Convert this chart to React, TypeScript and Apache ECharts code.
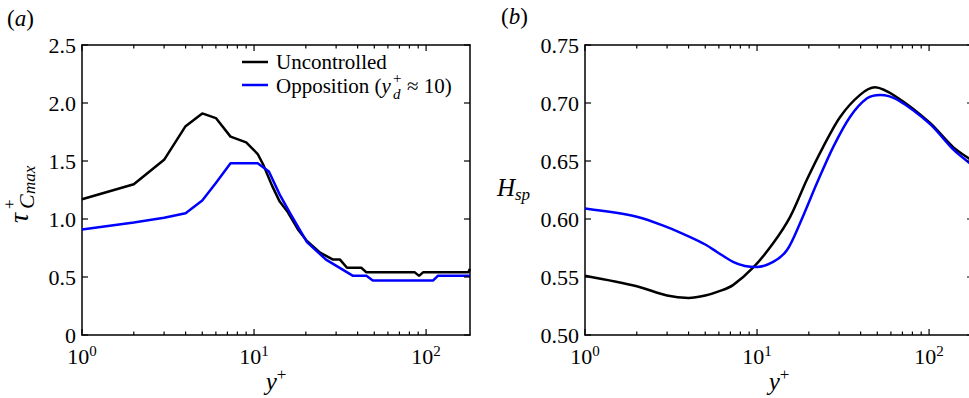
import React, { useEffect, useRef } from 'react';
import * as echarts from 'echarts';

// ---------- data: panel (a) ----------
const xA_unc = [1, 2, 3, 4, 5, 6, 7.3, 9, 10.5, 11.3, 12.7, 14.1, 15.7, 18, 20.3, 24.2, 28.8, 31.6, 34.7, 42, 45, 86, 91, 96, 176, 180];
const yA_unc = [1.17, 1.30, 1.51, 1.80, 1.91, 1.87, 1.71, 1.66, 1.56, 1.47, 1.29, 1.15, 1.06, 0.91, 0.81, 0.71, 0.65, 0.65, 0.58, 0.58, 0.54, 0.54, 0.51, 0.54, 0.54, 0.57];
const xA_opp = [1, 2, 3, 4, 5, 6, 7.3, 10.5, 12.2, 14.1, 16.2, 20.3, 26.2, 37.6, 45, 49, 110, 117, 180];
const yA_opp = [0.91, 0.97, 1.01, 1.05, 1.16, 1.31, 1.48, 1.48, 1.41, 1.21, 1.05, 0.80, 0.65, 0.51, 0.51, 0.47, 0.47, 0.51, 0.51];

// ---------- data: panel (b) ----------
const xB_unc = [1, 2, 3, 4, 5, 6.1, 7.25, 9.48, 12.4, 15.6, 19.5, 24.2, 30.4, 39.7, 48.5, 65, 101, 138, 180];
const yB_unc = [0.551, 0.542, 0.534, 0.532, 0.534, 0.538, 0.543, 0.558, 0.579, 0.602, 0.634, 0.662, 0.688, 0.707, 0.7135, 0.705, 0.683, 0.662, 0.650];
const xB_opp = [1, 2, 3, 4, 5, 5.85, 7.25, 8.5, 10, 12.4, 14.9, 17.8, 22.3, 27.7, 34.7, 43.6, 52, 65, 101, 138, 180];
const yB_opp = [0.609, 0.602, 0.593, 0.585, 0.578, 0.5716, 0.563, 0.5595, 0.5586, 0.563, 0.573, 0.5966, 0.631, 0.662, 0.688, 0.704, 0.707, 0.703, 0.682, 0.660, 0.646];

// ---------- axes / ticks ----------
const X_MIN = 1;
const X_MAX = 180;
const YA_MIN = 0, YA_MAX = 2.5, YA_STEP = 0.5;
const YB_MIN = 0.5, YB_MAX = 0.75, YB_STEP = 0.05;
const X_MAJOR = [1, 10, 100];
const X_MINOR = [2, 3, 4, 5, 6, 7, 8, 9, 20, 30, 40, 50, 60, 70, 80, 90];
const YA_TICKS = [0, 0.5, 1.0, 1.5, 2.0, 2.5];
const YB_TICKS = [0.5, 0.55, 0.6, 0.65, 0.7, 0.75];

const SERIES_NAMES = ['Uncontrolled', 'Opposition'];

const FONT = 'Liberation Serif';
const BLACK = '#000000';
const BLUE = '#0000ff';

const zip = (xs: number[], ys: number[]) => xs.map((x, i) => [x, ys[i]]);

const xLabelRich = {
  b: { fontSize: 22, fontFamily: FONT, color: BLACK },
  s: { fontSize: 15, fontFamily: FONT, color: BLACK, padding: [0, 0, 12, 0] },
};

const fmtLog = (v: number) => {
  const l = Math.log10(v);
  const e = Math.round(l);
  if (Math.abs(l - e) > 1e-6) return '';
  return '{b|10}{s|' + e + '}';
};

function makeAxes(gridIndex: number, yMin: number, yMax: number, yStep: number, digits: number) {
  const line = { show: true, onZero: false, lineStyle: { color: BLACK, width: 1.5 } };
  const xBase = {
    type: 'log',
    logBase: 10,
    min: X_MIN,
    max: X_MAX,
    gridIndex,
    axisLine: line,
    axisTick: { show: false },
    splitLine: { show: false },
  };
  const yBase = {
    type: 'value',
    min: yMin,
    max: yMax,
    interval: yStep,
    gridIndex,
    axisLine: line,
    axisTick: { show: false },
    splitLine: { show: false },
  };
  return {
    x: [
      {
        ...xBase,
        position: 'bottom',
        axisLabel: { show: true, formatter: fmtLog, rich: xLabelRich, margin: 8 },
        name: '{i|y}{s|+}',
        nameLocation: 'middle',
        nameGap: 31,
        nameMoveOverlap: false,
        nameTextStyle: {
          rich: {
            i: { fontSize: 25, fontStyle: 'italic', fontFamily: FONT, color: BLACK },
            s: { fontSize: 17, fontFamily: FONT, color: BLACK, padding: [0, 0, 14, 0] },
          },
        },
      },
      { ...xBase, position: 'top', axisLabel: { show: false } },
    ],
    y: [
      {
        ...yBase,
        position: 'left',
        axisLabel: {
          show: true,
          fontSize: 22,
          fontFamily: FONT,
          color: BLACK,
          margin: 6,
          formatter: (v: number) => (v === 0 ? '0' : v.toFixed(digits)),
        },
      },
      { ...yBase, position: 'right', axisLabel: { show: false } },
    ],
  };
}

// inward ticks on all four sides, positioned through the axes' scales
function tickSeries(xAxisIndex: number, yAxisIndex: number, yMin: number, yMax: number, yTicks: number[]) {
  const data: number[][] = [];
  X_MAJOR.forEach((x) => data.push([x, yMin, 6, 0]));
  X_MINOR.forEach((x) => data.push([x, yMin, 3.5, 0]));
  yTicks.forEach((y) => data.push([X_MIN, y, 6, 1]));
  return {
    type: 'custom',
    xAxisIndex,
    yAxisIndex,
    silent: true,
    clip: false,
    z: 10,
    data,
    encode: { x: 0, y: 1 },
    renderItem: (params: any, api: any) => {
      const v0 = api.value(0);
      const v1 = api.value(1);
      const len = api.value(2);
      const kind = api.value(3);
      const st = { stroke: BLACK, lineWidth: 1.2 };
      if (kind === 0) {
        const b = api.coord([v0, yMin]);
        const t = api.coord([v0, yMax]);
        return {
          type: 'group',
          children: [
            { type: 'line', shape: { x1: b[0], y1: b[1], x2: b[0], y2: b[1] - len }, style: st },
            { type: 'line', shape: { x1: t[0], y1: t[1], x2: t[0], y2: t[1] + len }, style: st },
          ],
        };
      }
      const l = api.coord([X_MIN, v1]);
      const r = api.coord([X_MAX, v1]);
      return {
        type: 'group',
        children: [
          { type: 'line', shape: { x1: l[0], y1: l[1], x2: l[0] + len, y2: l[1] }, style: st },
          { type: 'line', shape: { x1: r[0], y1: r[1], x2: r[0] - len, y2: r[1] }, style: st },
        ],
      };
    },
  };
}

function lineSeries(name: string, data: number[][], color: string, xAxisIndex: number, yAxisIndex: number, smooth: number | boolean) {
  return {
    type: 'line',
    name,
    data,
    xAxisIndex,
    yAxisIndex,
    showSymbol: false,
    symbol: 'none',
    smooth,
    lineStyle: { color, width: 2.5 },
    itemStyle: { color },
    z: 3,
  };
}

export default function App() {
  const ref = useRef<HTMLDivElement>(null);

  useEffect(() => {
    if (!ref.current) return;
    const chart = echarts.init(ref.current, null, { renderer: 'svg' });
    const a = makeAxes(0, YA_MIN, YA_MAX, YA_STEP, 1);
    const b = makeAxes(1, YB_MIN, YB_MAX, YB_STEP, 2);

    const ital = (size: number) => ({ fontSize: size, fontStyle: 'italic', fontFamily: FONT, fill: BLACK });
    const norm = (size: number) => ({ fontSize: size, fontFamily: FONT, fill: BLACK });
    const txt = (x: number, y: number, text: string, st: any) => ({
      type: 'text', x, y, style: { text, ...st, verticalAlign: 'middle' },
    });

    const option: any = {
      animation: false,
      backgroundColor: '#ffffff',
      textStyle: { fontFamily: FONT },
      grid: [
        { left: 82, top: 45, width: 388, height: 290, containLabel: false, outerBoundsMode: 'none' },
        { left: 585, top: 45, width: 388, height: 290, containLabel: false, outerBoundsMode: 'none' },
      ],
      xAxis: [...a.x, ...b.x],
      yAxis: [...a.y, ...b.y],
      series: [
        lineSeries(SERIES_NAMES[0], zip(xA_unc, yA_unc), BLACK, 0, 0, false),
        lineSeries(SERIES_NAMES[1], zip(xA_opp, yA_opp), BLUE, 0, 0, false),
        lineSeries(SERIES_NAMES[0], zip(xB_unc, yB_unc), BLACK, 2, 2, 0.3),
        lineSeries(SERIES_NAMES[1], zip(xB_opp, yB_opp), BLUE, 2, 2, 0.3),
        tickSeries(0, 0, YA_MIN, YA_MAX, YA_TICKS),
        tickSeries(2, 2, YB_MIN, YB_MAX, YB_TICKS),
      ],
      graphic: [
        // panel labels
        { type: 'text', x: 7, y: 18, style: { text: '{n|(}{i|a}{n|)}', verticalAlign: 'middle', rich: { n: norm(23), i: ital(23) } } },
        { type: 'text', x: 501, y: 16, style: { text: '{n|(}{i|b}{n|)}', verticalAlign: 'middle', rich: { n: norm(23), i: ital(23) } } },
        // y label (a): tau^+_{Cmax}, rotated to read upwards
        {
          type: 'group', x: 18, y: 223, rotation: Math.PI / 2,
          children: [
            txt(0, 0, 'τ', ital(28)),
            txt(14, -9, '+', norm(17)),
            txt(14, 8, 'C', ital(22)),
            txt(29, 11, 'max', ital(17)),
          ],
        },
        // y label (b): H_sp
        txt(497, 187, 'H', ital(25)),
        txt(515, 194, 'sp', ital(17)),
        // legend
        { type: 'line', shape: { x1: 242, y1: 62, x2: 268, y2: 62 }, style: { stroke: BLACK, lineWidth: 2.5 } },
        { type: 'line', shape: { x1: 242, y1: 85, x2: 268, y2: 85 }, style: { stroke: BLUE, lineWidth: 2.5 } },
        txt(276, 62, SERIES_NAMES[0], norm(21)),
        { type: 'text', x: 276, y: 86, style: { text: '{n|' + SERIES_NAMES[1] + ' (}{i|y}', verticalAlign: 'middle', rich: { n: norm(21), i: ital(21) } } },
        txt(393, 78, '+', norm(15)),
        txt(393, 94, 'd', ital(15)),
        txt(407, 86, '≈ 10)', norm(21)),
      ],
    };
    chart.setOption(option);
    return () => chart.dispose();
  }, []);

  return (
    <div style={{ position: 'fixed', left: 0, top: 0, width: 969, height: 398, background: '#fff', fontFamily: 'Liberation Serif, serif' }}>
      <style>{'#root svg, #root svg text { font-family: "Liberation Serif", serif !important; }'}</style>
      <div ref={ref} style={{ width: 969, height: 398 }} />
    </div>
  );
}
